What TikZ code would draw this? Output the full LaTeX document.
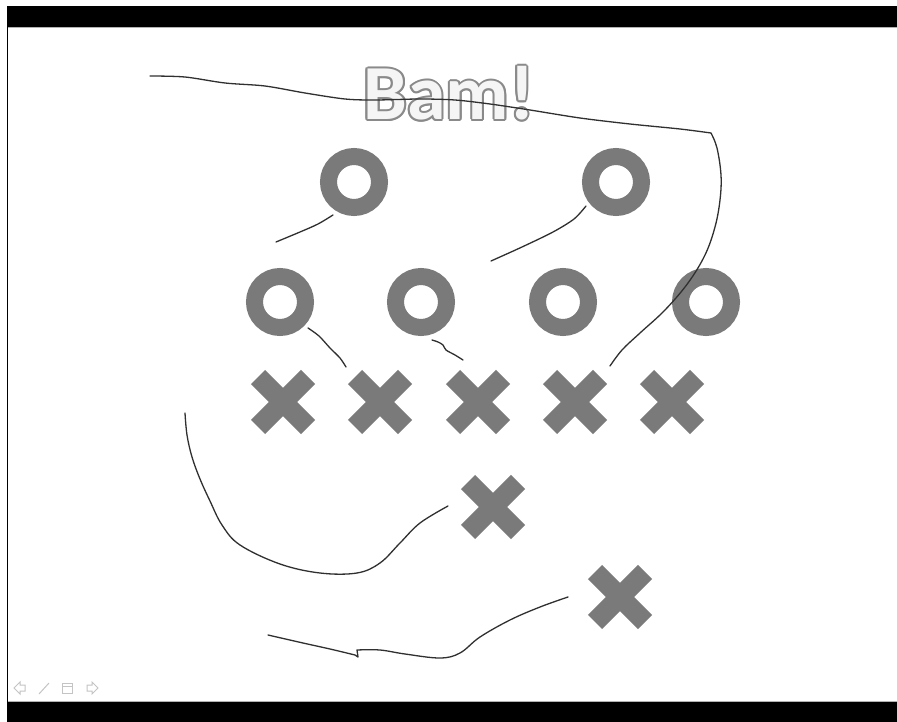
\documentclass[tikz,border=0pt]{standalone}
\usepackage{fontspec}
\setmainfont{Carlito}
\usetikzlibrary{shapes.misc}
\definecolor{markgray}{HTML}{7A7A7A}
\definecolor{inkgray}{HTML}{303030}
\definecolor{icongray}{HTML}{C4C4C4}
\definecolor{bamline}{HTML}{8A8A8A}
\tikzset{
  ring/.style={circle, draw=markgray, line width=17pt, minimum size=51pt, inner sep=0pt},
  crossmark/.style={cross out, draw=markgray, line width=20pt, minimum size=50pt, inner sep=0pt, outer sep=0pt},
  scribble/.style={draw=inkgray, line width=1.3pt, line cap=round, line join=round},
  bamtext/.style={font=\fontsize{78}{80}\selectfont\bfseries, anchor=base, inner sep=0pt},
  icon/.style={draw=icongray, line width=1pt},
}
\begin{document}
\begin{tikzpicture}[x=1pt, y=-1pt]
        % Slide frame
        \fill[white] (0,0) rectangle (897,722);
        \useasboundingbox (0,0) rectangle (897,722);
        \fill[black] (7,6) rectangle (897,27.5);
        \fill[black] (7,701.5) rectangle (897,722);
        \draw[gray!60, line width=1pt] (7,28) -- (897,28);
        \draw[gray!60, line width=1pt] (7,701) -- (897,701);
        \draw[black, line width=1.2pt] (7.5,27) -- (7.5,702);
        % Title (outlined)
        \foreach \a in {0,30,...,330}
          \node[bamtext, text=bamline, shift={(\a:2)}] at (449,120) {Bam!};
        \node (bam) at (449,120) [bamtext, text=gray!8] {Bam!};
        % Rings (top to bottom)
        \node (o1) at (354,182) [ring] {};
        \node (o2) at (616,182) [ring] {};
        \node (o3) at (280,302) [ring] {};
        \node (o4) at (421,302) [ring] {};
        \node (o5) at (563,302) [ring] {};
        \node (o6) at (706,302) [ring] {};
        % Crosses
        \node (x1) at (283,402) [crossmark] {};
        \node (x2) at (380,402) [crossmark] {};
        \node (x3) at (478,402) [crossmark] {};
        \node (x4) at (575,402) [crossmark] {};
        \node (x5) at (672,402) [crossmark] {};
        \node (x6) at (493,507) [crossmark] {};
        \node (x7) at (620,597) [crossmark] {};
        % Scribbles
        \draw[scribble] plot[smooth, tension=.5] coordinates {(150,76) (185,77) (225,83) (265,86) (305,93) (345,99) (375,100) (420,99) (455,100) (490,104) (530,110) (580,118) (630,124) (680,129) (711,133)}
          -- plot[smooth, tension=.6] coordinates {(711,133) (717,148) (721,175) (720,200) (715,227) (705,255) (688,283) (665,310) (640,333) (622,350) (610,366)};
        \draw[scribble] plot[smooth] coordinates {(276,242) (300,232) (318,224) (333,215)};
        \draw[scribble] plot[smooth] coordinates {(491,261) (522,247) (553,232) (574,219) (586,206)};
        \draw[scribble] plot[smooth] coordinates {(308,328) (319,336) (330,348) (340,358) (346,367)};
        \draw[scribble] plot[smooth] coordinates {(432,340) (438,342) (443,345) (446,350) (455,355) (463,360)};
        \draw[scribble] plot[smooth, tension=.6] coordinates {(185,413) (187,435) (192,457) (200,479) (210,501) (222,525) (240,545) (280,564) (320,573) (357,573) (380,563) (400,543) (420,523) (448,506)};
        \draw[scribble] plot[smooth, tension=.6] coordinates {(268,635) (303,643) (330,649) (355,655)} -- (358,657) -- (357,650)
          -- plot[smooth, tension=.6] coordinates {(357,650) (380,650) (405,654) (440,658) (460,653) (480,637) (510,620) (540,607) (568,597)};
        % Viewer icons
        \draw[icon] (14,688) -- (20,682) -- (20,685) -- (25,685) -- (25,691) -- (20,691) -- (20,694) -- cycle;
        \draw[icon] (39,694) -- (49,683);
        \draw[icon] (62,683) rectangle (72,693);
        \draw[icon] (62,686.5) -- (72,686.5);
        \draw[icon] (98,688) -- (92,682) -- (92,685) -- (87,685) -- (87,691) -- (92,691) -- (92,694) -- cycle;
\end{tikzpicture}
\end{document}
